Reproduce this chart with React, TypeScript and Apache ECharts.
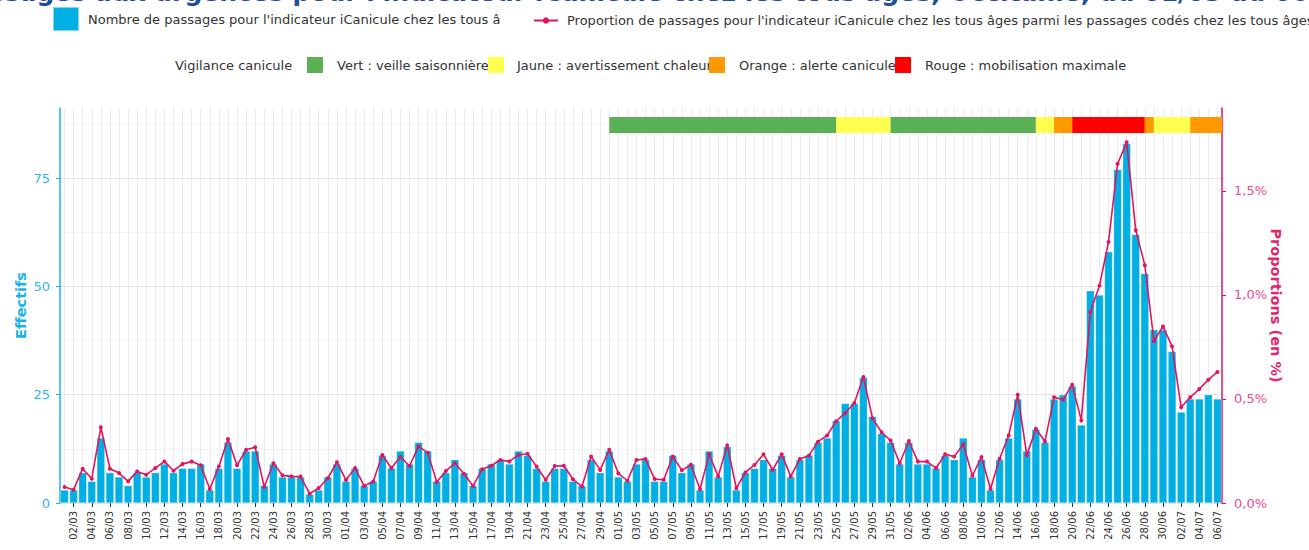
import React, { useEffect, useRef } from "react";
import * as echarts from "echarts";

const categories = [
  "01/03","02/03","03/03","04/03","05/03","06/03","07/03","08/03","09/03","10/03",
  "11/03","12/03","13/03","14/03","15/03","16/03","17/03","18/03","19/03","20/03",
  "21/03","22/03","23/03","24/03","25/03","26/03","27/03","28/03","29/03","30/03","31/03",
  "01/04","02/04","03/04","04/04","05/04","06/04","07/04","08/04","09/04","10/04",
  "11/04","12/04","13/04","14/04","15/04","16/04","17/04","18/04","19/04","20/04",
  "21/04","22/04","23/04","24/04","25/04","26/04","27/04","28/04","29/04","30/04",
  "01/05","02/05","03/05","04/05","05/05","06/05","07/05","08/05","09/05","10/05",
  "11/05","12/05","13/05","14/05","15/05","16/05","17/05","18/05","19/05","20/05",
  "21/05","22/05","23/05","24/05","25/05","26/05","27/05","28/05","29/05","30/05","31/05",
  "01/06","02/06","03/06","04/06","05/06","06/06","07/06","08/06","09/06","10/06",
  "11/06","12/06","13/06","14/06","15/06","16/06","17/06","18/06","19/06","20/06",
  "21/06","22/06","23/06","24/06","25/06","26/06","27/06","28/06","29/06","30/06",
  "01/07","02/07","03/07","04/07","05/07","06/07"
];

const passages = [
  3, 3, 7, 5, 15, 7, 6, 4, 7, 6,
  7, 9, 7, 8, 8, 9, 3, 8, 14, 8,
  12, 12, 4, 9, 6, 6, 6, 2, 3, 6,
  9, 5, 8, 4, 5, 11, 8, 12, 9, 14,
  12, 5, 7, 10, 7, 4, 8, 9, 10, 9,
  12, 11, 8, 5, 8, 8, 5, 4, 10, 7,
  12, 6, 5, 9, 10, 5, 5, 11, 7, 9,
  3, 12, 6, 13, 3, 7, 8, 10, 8, 11,
  6, 10, 11, 14, 15, 19, 23, 23, 29, 20,
  16, 14, 9, 14, 9, 9, 8, 11, 10, 15,
  6, 10, 3, 10, 15, 24, 12, 17, 14, 24,
  25, 27, 18, 49, 48, 58, 77, 83, 62, 53,
  40, 40, 35, 21, 24, 24, 25, 24
];

const proportions = [
  0.077, 0.064, 0.165, 0.117, 0.364, 0.165, 0.144, 0.104, 0.152, 0.136,
  0.168, 0.200, 0.155, 0.188, 0.199, 0.181, 0.067, 0.176, 0.308, 0.181,
  0.256, 0.268, 0.077, 0.191, 0.133, 0.128, 0.127, 0.045, 0.072, 0.119,
  0.196, 0.111, 0.168, 0.082, 0.103, 0.231, 0.168, 0.221, 0.178, 0.272,
  0.242, 0.101, 0.154, 0.191, 0.141, 0.082, 0.162, 0.179, 0.207, 0.200,
  0.231, 0.237, 0.175, 0.112, 0.178, 0.179, 0.114, 0.079, 0.224, 0.159,
  0.256, 0.143, 0.107, 0.207, 0.212, 0.115, 0.112, 0.224, 0.157, 0.184,
  0.066, 0.234, 0.128, 0.277, 0.071, 0.147, 0.183, 0.234, 0.160, 0.234,
  0.128, 0.212, 0.228, 0.295, 0.325, 0.393, 0.433, 0.481, 0.606, 0.407,
  0.340, 0.300, 0.191, 0.298, 0.199, 0.199, 0.168, 0.234, 0.223, 0.282,
  0.131, 0.221, 0.067, 0.213, 0.324, 0.521, 0.229, 0.357, 0.296, 0.508,
  0.497, 0.569, 0.397, 0.918, 1.045, 1.255, 1.631, 1.734, 1.311, 1.143,
  0.779, 0.849, 0.753, 0.460, 0.508, 0.548, 0.593, 0.630
];

const vigilanceStart = ["30/04", "25/05", "31/05", "16/06", "18/06", "20/06", "28/06", "29/06", "03/07"];
const vigilanceEnd = ["25/05", "31/05", "16/06", "18/06", "20/06", "28/06", "29/06", "03/07", "07/07"];
const vigilanceLevel = ["Vert", "Jaune", "Vert", "Jaune", "Orange", "Rouge", "Orange", "Jaune", "Orange"];

const levelNames = ["Vert", "Jaune", "Orange", "Rouge"];
const levelLabels = [
  "Vert : veille saisonnière",
  "Jaune : avertissement chaleur",
  "Orange : alerte canicule",
  "Rouge : mobilisation maximale"
];
const levelColors: Record<string, string> = {
  Vert: "#5BAF55",
  Jaune: "#FFFF50",
  Orange: "#FF9900",
  Rouge: "#FF0000"
};

const leftTicks = [0, 25, 50, 75];
const rightTicks = [0, 0.5, 1, 1.5];

const titleText =
  "Passages aux urgences pour l'indicateur iCanicule chez les tous âges, Occitanie, du 01/03 au 06/07";
const barName = "Nombre de passages pour l'indicateur iCanicule chez les tous âges";
const lineName =
  "Proportion de passages pour l'indicateur iCanicule chez les tous âges parmi les passages codés chez les tous âges";
const vigilanceTitle = "Vigilance canicule";

const BLUE = "#00AFE3";
const PINK = "#E3135F";
const FONT = "DejaVu Sans";

export default function App() {
  const ref = useRef<HTMLDivElement>(null);

  useEffect(() => {
    if (!ref.current) return;
    const chart = echarts.init(ref.current, null, { renderer: "svg" });
    const n = categories.length;

    const vigData = vigilanceStart.map((s, k) => {
      const a = categories.indexOf(s);
      const b = categories.indexOf(vigilanceEnd[k]);
      return [a, b < 0 ? n : b, k];
    });

    const boxX = [307, 488, 709, 895];
    const textX = [337, 517, 739, 925];
    const graphics: any[] = [
      {
        type: "text",
        x: 654,
        y: 5,
        silent: true,
        style: {
          text: titleText,
          font: `bold 25px "${FONT}"`,
          fill: "#1F4E9C",
          align: "center",
          verticalAlign: "bottom"
        }
      },
      {
        type: "text",
        x: 175,
        y: 65,
        style: {
          text: vigilanceTitle,
          font: `13px "${FONT}"`,
          fill: "#333333",
          verticalAlign: "middle"
        }
      }
    ];
    levelLabels.forEach((lab, i) => {
      graphics.push({
        type: "text",
        x: textX[i],
        y: 65,
        style: { text: lab, font: `13px "${FONT}"`, fill: "#333333", verticalAlign: "middle" }
      });
    });
    levelNames.forEach((lv, i) => {
      graphics.push({
        type: "rect",
        shape: { x: boxX[i], y: 57, width: 16, height: 16 },
        style: { fill: levelColors[lv] }
      });
    });

    const oddOnly = (idx: number) => idx % 2 === 1;

    chart.setOption({
      animation: false,
      textStyle: { fontFamily: FONT },
      graphic: graphics,
      legend: [
        {
          left: 52,
          top: 6,
          padding: 0,
          width: 3000,
          itemWidth: 26,
          itemHeight: 24,
          selectedMode: false,
          data: [{ name: barName, icon: "rect" }],
          textStyle: {
            fontSize: 13,
            color: "#333333",
            fontFamily: FONT,
            width: 420,
            overflow: "truncate",
            ellipsis: "",
            padding: [0, 0, 0, 4]
          }
        },
        {
          left: 533,
          top: 14,
          padding: 0,
          width: 3000,
          itemWidth: 24,
          itemHeight: 8,
          selectedMode: false,
          data: [{ name: lineName }],
          textStyle: {
            fontSize: 13,
            color: "#333333",
            fontFamily: FONT,
            padding: [0, 0, 0, 4]
          }
        }
      ],
      grid: {
        left: 60,
        right: 87,
        top: 108,
        bottom: 47,
        containLabel: false,
        outerBoundsMode: "none"
      },
      xAxis: {
        type: "category",
        data: categories,
        boundaryGap: true,
        axisLine: { show: false },
        axisTick: {
          show: true,
          alignWithLabel: true,
          interval: oddOnly,
          length: 4,
          lineStyle: { color: "#333333" }
        },
        axisLabel: {
          interval: oddOnly,
          rotate: 90,
          fontSize: 10,
          color: "#333333",
          margin: 8,
          fontFamily: FONT
        },
        splitLine: {
          show: true,
          interval: 0,
          alignWithLabel: true,
          lineStyle: { color: "#EBEBEB", width: 1 }
        }
      },
      yAxis: [
        {
          type: "value",
          position: "left",
          min: 0,
          max: 91.2,
          interval: 25,
          name: "Effectifs",
          nameLocation: "middle",
          nameRotate: 90,
          nameGap: 32,
          nameMoveOverlap: false,
          nameTextStyle: { color: "#1AB2E8", fontSize: 14.5, fontWeight: "bold", fontFamily: FONT },
          axisLine: { show: true, lineStyle: { color: "#1AB2E8", width: 1.5 } },
          axisTick: { show: true, length: 4, customValues: leftTicks, lineStyle: { color: "#1AB2E8" } },
          axisLabel: {
            customValues: leftTicks,
            color: "#2EB8EA",
            fontSize: 13,
            margin: 10,
            fontFamily: FONT
          },
          splitLine: {
            show: true,
            lineStyle: { color: ["#E3E3E3", "#E3E3E3", "#E3E3E3", "#E3E3E3", "rgba(0,0,0,0)"], width: 1 }
          }
        },
        {
          type: "value",
          position: "right",
          min: 0,
          max: 1.899,
          interval: 0.5,
          name: "Proportions (en %)",
          nameLocation: "middle",
          nameRotate: -90,
          nameGap: 46,
          nameMoveOverlap: false,
          nameTextStyle: { color: "#E3246E", fontSize: 14.5, fontWeight: "bold", fontFamily: FONT },
          axisLine: { show: true, lineStyle: { color: PINK, width: 1.5 } },
          axisTick: { show: true, length: 4, customValues: rightTicks, lineStyle: { color: PINK } },
          axisLabel: {
            customValues: rightTicks,
            color: "#EC4D8C",
            fontSize: 13,
            margin: 12,
            fontFamily: FONT,
            formatter: (v: number) => v.toFixed(1).replace(".", ",") + "%"
          },
          splitLine: { show: false }
        },
        {
          type: "value",
          position: "left",
          min: 0,
          max: 91.2,
          interval: 12.5,
          axisLine: { show: false },
          axisTick: { show: false },
          axisLabel: { show: false },
          splitLine: {
            show: true,
            lineStyle: { color: ["rgba(0,0,0,0)", "#F3F3F3"], width: 1 }
          }
        }
      ],
      series: [
        {
          name: barName,
          type: "bar",
          data: passages,
          xAxisIndex: 0,
          yAxisIndex: 0,
          barCategoryGap: "12%",
          itemStyle: { color: BLUE, borderColor: "rgba(255,255,255,0.5)", borderWidth: 0.5 },
          z: 2
        },
        {
          name: lineName,
          type: "line",
          data: proportions,
          xAxisIndex: 0,
          yAxisIndex: 1,
          symbol: "circle",
          symbolSize: 4,
          showSymbol: true,
          itemStyle: { color: PINK },
          lineStyle: { color: PINK, width: 1.6 },
          z: 4
        },
        {
          type: "custom",
          name: "vigilance",
          xAxisIndex: 0,
          yAxisIndex: 2,
          clip: true,
          encode: { x: [0, 1], y: 2 },
          data: vigData,
          z: 5,
          renderItem: (params: any, api: any) => {
            const s = api.value(0);
            const e = api.value(1);
            const k = api.value(2);
            const cs = params.coordSys;
            const bw = api.size([1, 0])[0];
            const xOf = (idx: number) =>
              idx >= n ? api.coord([n - 1, 0])[0] + bw / 2 : api.coord([idx, 0])[0];
            const x1 = xOf(s);
            const x2 = xOf(e);
            return {
              type: "rect",
              shape: { x: x1, y: cs.y + 9, width: x2 - x1, height: 16 },
              style: { fill: levelColors[vigilanceLevel[k]] }
            };
          }
        }
      ]
    });

    return () => {
      chart.dispose();
    };
  }, []);

  return (
    <div
      ref={ref}
      style={{ position: "fixed", left: 0, top: 0, width: 1309, height: 550, background: "#fff" }}
    />
  );
}
